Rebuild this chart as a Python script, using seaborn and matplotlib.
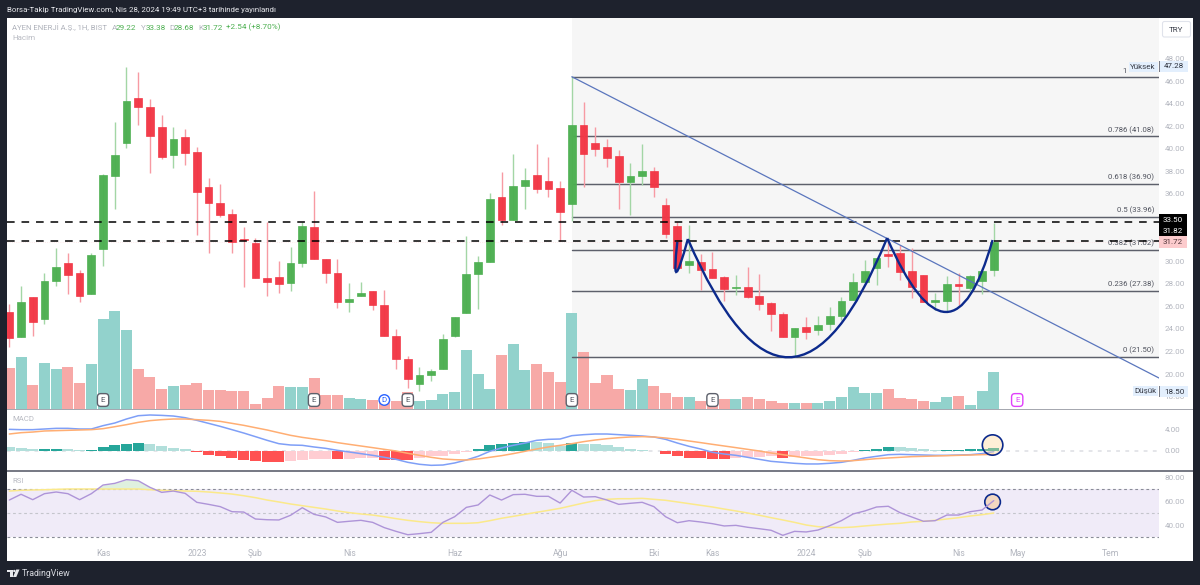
import numpy as np
import pandas as pd
import matplotlib
matplotlib.use("Agg")
import matplotlib.pyplot as plt
import seaborn as sns
from matplotlib.patches import Rectangle, Ellipse, PathPatch, FancyBboxPatch, Polygon, Circle
from matplotlib.path import Path
from matplotlib.transforms import IdentityTransform

opens = [25.5,23.29,26.84,24.88,28.26,29.85,28.97,27.1,31.1,37.57,40.5,44.5,43.7,41.92,39.44,41.03,39.7,36.6,35.18,34.2,31.98,31.63,28.52,28.61,28.08,
         29.85,33.05,30.21,28.97,26.39,26.93,27.37,26.13,23.38,21.34,19.12,19.92,20.45,23.38,25.42,28.88,29.94,35.71,33.67,36.69,37.66,37.13,36.51,35.09,42.1,
         40.5,40.15,39.35,37.04,37.57,38.02,35.0,33.14,29.68,29.94,29.32,28.61,27.63,27.72,26.93,26.3,25.33,23.29,24.17,23.91,24.44,25.15,26.57,28.17,29.41,
         30.65,30.74,29.14,28.79,26.39,26.48,27.99,27.63,28.26,29.22]
highs = [26.22,27.81,26.84,28.97,31.18,30.74,29.23,30.74,37.75,42.37,47.28,46.8,44.4,42.99,41.92,41.74,40.15,37.4,36.86,34.64,33.05,32.07,33.49,30.03,31.27,
         33.49,36.24,30.21,30.21,28.08,28.17,27.37,27.46,24.0,21.6,20.63,20.45,23.55,25.06,32.25,30.48,36.06,37.93,39.53,38.28,40.41,39.26,37.13,46.38,44.14,
         41.92,40.86,39.88,38.73,40.41,38.37,35.62,33.49,33.23,30.65,30.83,28.7,28.79,29.5,28.88,26.39,25.5,24.09,25.06,25.15,25.95,26.84,28.97,30.12,30.3,
         32.07,31.45,31.18,28.79,27.19,28.7,28.97,28.79,29.41,33.38]
lows = [22.4,23.29,23.38,24.44,27.81,27.1,26.39,27.1,29.59,34.64,40.06,42.1,37.84,39.08,38.28,38.55,32.34,30.74,33.93,30.74,27.72,28.52,26.93,27.19,27.37,
        29.5,30.21,28.08,25.86,25.5,26.93,25.68,23.38,20.45,18.76,18.5,19.38,20.45,23.29,25.42,25.77,29.94,33.23,33.67,34.64,36.06,35.71,31.81,33.58,36.6,
        39.35,38.37,34.64,34.11,36.78,35.71,32.07,29.41,28.97,27.46,28.52,26.48,27.01,26.75,25.68,23.82,23.29,21.5,23.11,23.46,23.91,24.79,26.57,28.08,27.9,
        29.5,28.35,26.75,26.39,25.68,25.59,26.13,27.28,27.1,28.68]
closes = [23.2,26.39,24.62,28.26,29.5,28.79,26.93,30.56,37.66,39.44,44.23,43.7,41.12,39.26,40.86,39.6,36.15,35.18,34.11,31.72,31.89,28.52,28.17,27.99,29.85,
          33.14,30.21,28.97,26.39,26.66,27.19,26.13,23.38,21.34,19.56,19.92,20.27,23.11,25.06,28.88,29.94,35.53,33.67,36.69,37.22,36.42,36.42,34.38,42.1,39.53,
          39.97,39.17,37.04,37.57,38.02,36.6,32.43,29.41,30.03,29.23,28.52,27.55,27.72,26.84,26.22,25.33,23.29,24.09,23.73,24.35,25.15,26.48,28.17,29.14,30.3,
          30.48,29.05,27.72,26.39,26.57,27.99,27.81,28.7,29.14,31.72]
volume = [41,52,24,46,40,42,26,45,90,98,79,40,32,20,23,24,26,19,19,18,18,5,11,23,22,
          22,31,14,14,11,10,9,11,8,17,8,9,15,17,59,35,20,54,65,39,45,37,27,96,57,
          26,34,20,19,30,23,16,12,12,8,10,10,10,12,10,8,6,6,6,6,8,12,22,16,16,
          20,11,10,8,7,12,13,4,18,37]
macd_line = [3.94,3.88,3.88,4.0,4.12,4.12,4.0,4.0,4.61,5.09,5.82,6.42,6.55,6.48,6.36,6.06,5.58,5.03,4.48,3.88,3.27,2.61,1.94,1.33,1.09,
             1.03,.73,.48,.12,-.18,-.48,-.79,-1.15,-1.52,-2.06,-2.42,-2.61,-2.55,-2.18,-1.64,-.97,-.06,.55,1.03,1.45,1.94,2.12,2.18,2.79,2.97,
             3.09,3.09,2.97,2.85,2.73,2.55,2.12,1.45,.85,.36,-.24,-.55,-.79,-1.15,-1.52,-1.88,-2.06,-2.24,-2.36,-2.36,-2.24,-2.06,-1.7,-1.27,-.97,
             -.67,-.61,-.67,-.73,-.79,-.79,-.73,-.67,-.48,-.12]
macd_signal = [3.09,3.33,3.45,3.64,3.7,3.76,3.82,3.88,4.06,4.42,4.79,5.21,5.52,5.7,5.82,5.82,5.7,5.58,5.39,5.03,4.67,4.24,3.82,3.33,2.85,
               2.48,2.18,1.88,1.52,1.21,.91,.61,.3,0,-.42,-.79,-1.15,-1.45,-1.58,-1.64,-1.45,-1.15,-.85,-.48,-.06,.36,.73,1.03,1.33,1.7,
               2.0,2.24,2.42,2.55,2.61,2.55,2.36,2.12,1.82,1.52,1.21,.91,.61,.3,0,-.36,-.67,-.97,-1.27,-1.58,-1.76,-1.82,-1.76,-1.58,-1.39,
               -1.27,-1.15,-1.03,-.97,-.91,-.85,-.79,-.73,-.67,-.61]
macd_hist = [.79,.61,.36,.42,.42,.36,.12,.18,.67,1.03,1.33,1.52,1.21,.91,.61,.42,-.18,-.67,-.97,-1.33,-1.58,-1.88,-2.06,-2.06,-1.88,
             -1.58,-1.45,-1.39,-1.45,-1.39,-1.33,-1.27,-1.58,-1.58,-1.58,-1.27,-.97,-.85,-.61,-.18,.42,1.03,1.21,1.45,1.64,1.58,1.52,.97,1.45,1.27,
             1.21,1.09,.67,.42,.24,.06,-.48,-.97,-1.27,-1.33,-1.45,-1.52,-1.21,-1.15,-1.09,-.97,-1.33,-1.03,-.97,-.85,-.67,-.48,-.24,.18,.42,
             .73,.67,.55,.30,.12,.18,.18,.36,.36,.55]
rsi_line = [60.8,65.6,61.1,66.1,67.5,66.1,61.1,66.1,73.3,74.7,77.8,76.9,71.4,67.2,68.3,66.4,58.9,57.2,55.3,51.1,50.8,45,44.4,44.2,48.1,
            54.4,48.9,46.7,42.2,43.1,43.9,42.2,37.8,34.7,31.9,32.8,33.9,42.2,46.9,54.7,56.7,65,60.8,65.3,65.6,63.9,63.9,58.3,68.9,63.3,
            63.6,60.8,57.2,58.1,58.9,55.3,46.9,41.9,43.6,42.5,41.1,39.2,39.7,38.1,36.9,35.6,31.4,34.7,34.2,35.8,39.4,43.6,49.2,51.7,55,
            55.6,50.3,46.7,43.1,43.6,48.3,48.3,51.1,52.5,60.3]
rsi_ma = [68.3,68.9,69.2,69.4,69.7,70,70,70,70,70,70,70,69.4,68.9,68.6,68.3,68.1,67.5,66.7,65.8,64.4,62.8,60.8,59.2,57.5,
          56.1,54.7,53.3,51.7,50.3,49.2,48.3,46.9,45.3,43.9,42.8,41.9,41.4,41.4,41.4,41.9,43.6,45.6,47.2,48.9,50.6,52.2,53.9,56.1,58.3,
          60.3,61.4,61.9,61.9,62.2,61.4,60.6,59.2,57.8,56.4,55,53.3,51.7,50,48.1,46.1,44.2,42.2,40,38.6,38.1,37.8,38.3,39.2,40,
          40.8,41.4,42.5,43.1,43.9,45,46.1,47.5,48.6,50]
date_positions = [8,16,21,29,38,47,55,60,68,73,81,86,94]
date_labels = ["Kas","2023","Şub","Nis","Haz","Ağu","Eki","Kas","2024","Şub","Nis","May","Tem"]
fib_levels = [21.50,27.38,31.02,33.96,36.90,41.08,46.38]
fib_labels = ["0 (21.50)","0.236 (27.38)","0.382 (31.02)","0.5 (33.96)","0.618 (36.90)","0.786 (41.08)","1"]
price_ticks = [18,20,22,24,26,28,30,36,38,40,42,44,46,48]
dashed_levels = [33.50,31.82]
trend_x = [48,98.1]
trend_y = [46.38,19.65]
left_dip_x = [57,56.4,57.9]
left_dip_y = [31.72,26.26,31.98]
cup_x = [57.9,66.6,74.9]
cup_y = [31.98,10.95,32.07]
handle_x = [74.9,80.4,83.9]
handle_y = [32.07,19.03,31.89]
earnings_idx = [8,26,34,48,60]

W, H = 1200, 585
DARK = "#1e222d"; UP = "#4caf50"; DOWN = "#f23645"; AX_GREY = "#b2b5be"
sns.set_theme(style="white")
plt.rcParams["font.family"] = ["Roboto", "DejaVu Sans"]

idx = np.arange(len(closes))
o, h, l, c = map(np.array, (opens, highs, lows, closes))
up = c >= o
frame = pd.DataFrame({"i": idx, "vol": volume, "dir": np.where(up, "up", "down"),
                      "macd": macd_line, "signal": macd_signal, "hist": macd_hist,
                      "rsi": rsi_line, "rsi_ma": rsi_ma})

fig = plt.figure(figsize=(W/100, H/100), dpi=100, facecolor=DARK)

def box(x0, y0, x1, y1):
    return [x0/W, 1-y1/H, (x1-x0)/W, (y1-y0)/H]

def fx(x): return x/W
def fy(y): return 1-y/H

bg = fig.add_axes(box(7,18,1193,561), zorder=0, facecolor="white")
bg.set_xticks([]); bg.set_yticks([])
sns.despine(ax=bg, left=True, bottom=True)

XLIM = (-0.196, 98.1)
ax_vol = fig.add_axes(box(7,18,1159,409), zorder=1, facecolor="none")
ax = fig.add_axes(box(7,18,1159,409), zorder=2, facecolor="none")
ax_m = fig.add_axes(box(7,409,1159,471), zorder=1, facecolor="none")
ax_r = fig.add_axes(box(7,471,1159,561), zorder=1, facecolor="none")

# volume
sns.barplot(data=frame, x="i", y="vol", hue="dir", dodge=False, native_scale=True, width=0.94,
            palette={"up": "#92d2cc", "down": "#f7a9a7"}, errorbar=None, legend=False, ax=ax_vol,
            linewidth=0, saturation=1, zorder=2)
ax_vol.set_xlim(*XLIM); ax_vol.set_ylim(0, 391)
ax_vol.set_xlabel(""); ax_vol.set_ylabel(""); ax_vol.set_xticks([]); ax_vol.set_yticks([])

ax.set_xlim(*XLIM); ax.set_ylim(16.90, 51.59)
ax_vol.add_patch(Rectangle((48, fib_levels[0]), 60, 40, transform=ax.transData, facecolor="#f6f6f6", edgecolor="none", zorder=0))

# candles
for mask, col, wick in ((up, UP, "#a3d6a5"), (~up, DOWN, "#f79aa3")):
    ax.vlines(idx[mask], l[mask], h[mask], color=wick, lw=1.0, zorder=3)
    ax.bar(idx[mask], np.abs(c-o)[mask], bottom=np.minimum(o,c)[mask], width=0.66, color=col,
           edgecolor=col, linewidth=0.5, alpha=0.97, zorder=4)

# fib levels
for lv, lb in zip(fib_levels, fib_labels):
    ax.plot([48, XLIM[1]], [lv, lv], color="#5d606b", lw=1.05, zorder=2.5)
    off = -23.0 if lb == "1" else -3.5
    ax.annotate(lb, xy=(1, lv), xycoords=ax.get_yaxis_transform(), xytext=(off, 2.0),
                textcoords="offset points", ha="right", va="bottom", fontsize=5.6, color="#50535e", zorder=5)
# dashed levels
for lv in dashed_levels:
    ax.plot(XLIM, [lv, lv], color="black", lw=1.1, dashes=(5.0, 4.5), zorder=6)
ax.plot(XLIM, [closes[-1]]*2, color="#fde3e5", lw=0.6, ls=":", zorder=2)
# trend
ax.plot(trend_x, trend_y, color="#5a76bd", lw=0.9, zorder=6)
# curves
for xs, ys in ((left_dip_x, left_dip_y), (cup_x, cup_y), (handle_x, handle_y)):
    ax.add_patch(PathPatch(Path(list(zip(xs, ys)), [Path.MOVETO, Path.CURVE3, Path.CURVE3]),
                           fill=False, edgecolor="#0c2a8c", lw=1.7, zorder=7))

ax.yaxis.tick_right()
ax.set_yticks(price_ticks)
ax.set_yticklabels([f"{v:.2f}" for v in price_ticks])
ax.tick_params(axis="y", length=0, labelsize=5.8, labelcolor=AX_GREY, pad=4)
ax.set_xticks([])
for s in ax.spines.values(): s.set_visible(False)
for s in ax_vol.spines.values(): s.set_visible(False)

# badges
for i in earnings_idx:
    ax_vol.text(i, 9, "E", ha="center", va="center", fontsize=5.8, color="#50535e", zorder=8,
                bbox=dict(boxstyle="round,pad=0.42", fc="white", ec="#5d606b", lw=1.0))
ax_vol.text(32, 9, "D", ha="center", va="center", fontsize=5.8, color="#2962ff", zorder=8,
            bbox=dict(boxstyle="circle,pad=0.28", fc="white", ec="#2962ff", lw=1.0))
ax_vol.text(86, 9, "E", ha="center", va="center", fontsize=5.8, color="#e040fb", zorder=8,
            bbox=dict(boxstyle="round,pad=0.42", fc="white", ec="#e040fb", lw=1.0))

# MACD
hist_state = []
for k, v in enumerate(macd_hist):
    prev = macd_hist[k-1] if k else v + 1
    if v >= 0:
        hist_state.append("pos_up" if v >= prev else "pos_down")
    else:
        hist_state.append("neg_down" if v <= prev else "neg_up")
frame["hstate"] = hist_state
ax_m.axhline(0, color="#dcdee3", lw=1.1, dashes=(2.5, 3.5), zorder=1)
sns.barplot(data=frame, x="i", y="hist", hue="hstate", dodge=False, native_scale=True, width=0.94,
            palette={"pos_up": "#26a69a", "pos_down": "#b2dfdb", "neg_down": "#ff5252", "neg_up": "#ffcdd2"},
            errorbar=None, legend=False, ax=ax_m, linewidth=0, saturation=1, zorder=2)
ax_m.add_patch(Ellipse((83.9, 1.09), 1.75, 3.7, facecolor=(1, .85, .6, .4), edgecolor="#0c2a8c", lw=1.2, zorder=5))
sns.lineplot(data=frame, x="i", y="macd", color="#7f9ff7", lw=1.1, ax=ax_m, zorder=3)
sns.lineplot(data=frame, x="i", y="signal", color="#ffae73", lw=1.1, ax=ax_m, zorder=4)
ax_m.set_xlim(*XLIM); ax_m.set_ylim(-3.64, 7.64)
ax_m.set_xlabel(""); ax_m.set_ylabel(""); ax_m.set_xticks([])
ax_m.yaxis.tick_right(); ax_m.set_yticks([0, 4]); ax_m.set_yticklabels(["0.00", "4.00"])
ax_m.tick_params(axis="y", length=0, labelsize=5.8, labelcolor=AX_GREY, pad=4)
for s in ax_m.spines.values(): s.set_visible(False)

# RSI
ax_r.fill_between(XLIM, 30, 70, color="#f0ebf8", lw=0, zorder=0)
ax_r.plot(XLIM, [70, 70], color="#8a8d98", lw=0.8, dashes=(2.5, 2.5), zorder=1)
ax_r.plot(XLIM, [50, 50], color="#c4c5cc", lw=0.8, dashes=(2.5, 2.5), zorder=1)
ax_r.plot(XLIM, [30, 30], color="#8a8d98", lw=0.8, dashes=(2.5, 2.5), zorder=1)
r = np.array(rsi_line)
ax_r.fill_between(idx, 70, r, where=r > 70, interpolate=True, color="#dff0df", lw=0, zorder=1)
ax_r.add_patch(Ellipse((83.9, 59.2), 1.33, 13, facecolor=(.96, .78, .55, .5), edgecolor="#0c2a8c", lw=1.2, zorder=2))
sns.lineplot(data=frame, x="i", y="rsi_ma", color="#fbe98a", lw=1.1, ax=ax_r, zorder=3)
sns.lineplot(data=frame, x="i", y="rsi", color="#ae94d8", lw=1.0, ax=ax_r, zorder=4)
ax_r.set_xlim(*XLIM); ax_r.set_ylim(10, 85)
ax_r.set_xlabel(""); ax_r.set_ylabel("")
ax_r.yaxis.tick_right(); ax_r.set_yticks([40, 60, 80]); ax_r.set_yticklabels(["40.00", "60.00", "80.00"])
ax_r.tick_params(axis="y", length=0, labelsize=5.8, labelcolor=AX_GREY, pad=4)
ax_r.set_xticks(date_positions); ax_r.set_xticklabels(date_labels)
ax_r.tick_params(axis="x", length=0, labelsize=6.2, labelcolor=AX_GREY, pad=-8.5)
for s in ax_r.spines.values(): s.set_visible(False)

# overlay helpers (figure-level chrome)
def frect(x0, y0, x1, y1, color, z=20):
    fig.add_artist(Rectangle((fx(x0), fy(y1)), (x1-x0)/W, (y1-y0)/H, transform=fig.transFigure,
                             facecolor=color, edgecolor="none", zorder=z))
def ftext(x, y, s, color, size=5.8, ha="left", z=21, **kw):
    fig.text(fx(x), fy(y), s, color=color, fontsize=size, ha=ha, va="center", zorder=z, **kw)

frect(7, 408.5, 1193, 410, "#a6a8b0")
frect(7, 470.3, 1193, 471.6, "#787b86")

# header and legends
ftext(7, 10, "Borsa-Takip TradingView.com, Nis 28, 2024 19:49 UTC+3 tarihinde yayınlandı", "#e8e9ed", size=5.65)
ftext(12, 27.5, "AYEN ENERJİ A.Ş., 1H, BIST", "#aeb1ba", size=5.55)
for xp, s, col in ((112,"A",AX_GREY),(116,"29.22",UP),(141,"Y",AX_GREY),(146,"33.38",UP),(169,"D",AX_GREY),
                   (174,"28.68",UP),(198,"K",AX_GREY),(203,"31.72",UP),(226,"+2.54 (+8.70%)",UP)):
    ftext(xp, 27.5, s, col, size=5.9)
ftext(12, 38.5, "Hacim", "#b8bac2", size=5.8)
ftext(12, 419, "MACD", "#b8bac2", size=5.6)
ftext(12, 481, "RSI", "#b8bac2", size=5.6)

# axis tags
fig.add_artist(FancyBboxPatch((1162.5, H-37), 28, 15.5, boxstyle="round,pad=0,rounding_size=2",
                              transform=IdentityTransform(), facecolor="white", edgecolor="#e0e3eb", lw=0.8, zorder=20))
ftext(1176.5, 29.5, "TRY", "#3b3f4a", size=5.8, ha="center")
frect(1129, 62, 1157.5, 72, "#e3effd")
ftext(1143, 67, "Yüksek", "#3b3f4a", size=5.8, ha="center")
frect(1158.5, 61, 1159.5, 72, "#787b86")
frect(1160, 61, 1188, 72, "#e3effd")
ftext(1174, 66.5, "47.28", "#2a2e39", size=5.8, ha="center")
frect(1133, 386, 1157.5, 396, "#e3effd")
ftext(1145, 391, "Düşük", "#3b3f4a", size=5.8, ha="center")
frect(1158.5, 386, 1159.5, 397, "#787b86")
frect(1160, 386, 1188, 397, "#e3effd")
ftext(1174, 391.5, "18.50", "#2a2e39", size=5.8, ha="center")
frect(1159, 214, 1187, 236, "black")
ftext(1173, 220, "33.50", "white", size=5.8, ha="center")
ftext(1173, 231, "31.82", "white", size=5.8, ha="center")
frect(1159, 236, 1187, 248, "#fccbcd")
ftext(1173, 242, "31.72", "#50353a", size=5.8, ha="center")

# footer logo + name
for pts in ([(7,569.5),(12.5,569.5),(12.5,577),(9.7,577),(9.7,572),(7,572)],
            [(13,577),(16.2,569.5),(19.5,569.5),(16.3,577)]):
    fig.add_artist(Polygon([(fx(a), fy(b)) for a, b in pts], closed=True, transform=fig.transFigure,
                           facecolor="#e8e9ed", edgecolor="none", zorder=20))
fig.add_artist(Circle((14.3, H-571), 1.2, transform=IdentityTransform(), facecolor="#e8e9ed", edgecolor="none", zorder=20))
ftext(22, 573.5, "TradingView", "#d8dae0", size=6.3)

fig.savefig("out.png", dpi=100, facecolor=DARK)
